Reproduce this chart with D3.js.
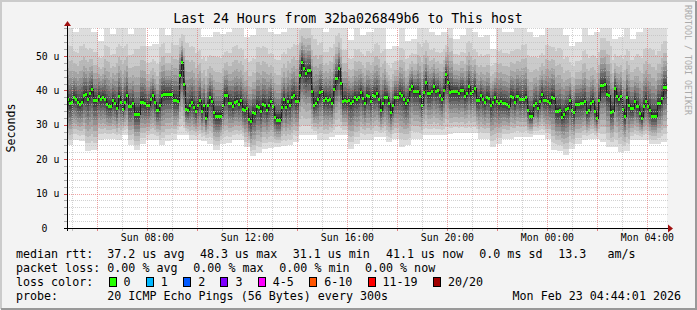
<!DOCTYPE html>
<html>
<head>
<meta charset="utf-8">
<script src="https://d3js.org/d3.v7.min.js"></script>
<style>
  body { margin: 0; background: #f3f3f3; }
  text { font-family: "DejaVu Sans Mono", monospace; }
</style>
</head>
<body>
<script>
// median rtt of each 5 min round, microseconds
var medians = [
  37.5,36.2,36.7,38.2,37.5,36.5,36.1,36.7,38.7,39.0,
  37.5,39.3,40.4,37.2,37.2,38.5,37.5,38.2,37.5,36.1,
  35.5,35.5,37.2,36.4,35.0,38.5,36.7,34.6,36.7,38.7,
  35.5,35.5,36.4,33.2,33.2,33.2,36.7,36.7,36.2,35.8,
  35.8,37.5,38.7,36.7,34.3,35.8,38.7,39.0,39.0,39.0,
  39.0,39.0,37.3,37.3,37.0,44.5,48.3,42.0,34.6,34.3,
  35.8,36.7,35.3,34.0,35.8,37.2,34.0,35.8,32.1,35.9,
  38.2,37.0,33.6,32.6,32.6,32.7,35.8,38.7,38.7,36.4,
  36.4,35.5,36.7,37.0,36.1,37.1,34.6,34.4,34.8,31.7,
  31.1,33.6,33.3,35.5,35.3,34.0,36.1,35.8,34.4,35.9,
  37.0,35.5,32.4,31.4,31.4,35.3,37.5,35.3,37.0,35.9,
  38.2,38.7,37.0,37.0,44.5,48.3,46.6,45.0,45.8,46.0,
  39.8,35.9,36.4,37.5,39.6,39.8,37.2,37.9,37.2,37.5,
  36.4,40.4,43.7,46.4,42.2,37.0,37.2,37.0,37.2,36.4,
  37.0,38.1,37.5,38.2,39.6,37.9,36.4,38.7,38.5,37.0,
  38.7,38.5,39.2,37.5,34.4,36.3,38.2,38.2,36.4,33.8,
  35.8,38.2,38.2,39.2,38.8,37.5,36.3,37.2,40.4,41.4,
  39.8,39.8,39.8,38.5,35.8,39.6,42.3,39.2,39.2,39.8,
  41.4,39.8,40.2,38.7,37.5,40.2,44.7,42.5,39.6,39.8,
  39.8,39.8,39.2,40.2,40.2,38.5,39.2,41.4,39.1,39.8,
  40.8,37.2,37.2,38.7,37.5,36.7,38.2,37.9,35.8,36.7,
  38.2,37.0,36.4,37.0,36.4,36.4,36.1,35.5,38.5,38.2,
  36.7,38.5,37.5,37.5,37.5,38.2,34.3,32.6,32.6,35.8,
  36.3,34.8,37.0,39.0,37.2,37.2,37.0,36.4,38.2,37.9,
  34.0,34.0,34.3,32.4,33.2,34.6,34.8,37.2,34.3,33.6,
  36.1,36.1,36.4,36.4,37.0,33.6,34.3,36.4,37.0,34.0,
  32.1,37.2,41.6,41.6,42.0,39.0,38.7,33.8,34.1,40.6,
  38.5,37.5,38.5,34.6,32.6,38.2,35.8,34.8,34.8,37.0,
  35.5,33.3,32.1,35.5,37.0,35.5,34.4,32.7,32.7,32.7,
  36.3,36.3,37.9,41.0,41.1
];

// smoke envelope: fastest and slowest of the 20 pings, one value per ~15 min
var smokeLo = [
  24,25.6,25.3,22.5,22.8,25.6,26,26,25.6,27,
  24,22.7,24.5,25.6,25.6,24,25.2,25.6,27,27,
  25.6,25.6,25.3,24.5,22.7,24.5,24.8,25.6,25.6,23.5,
  20.8,21.8,23,23.2,23.5,23.8,24,25,27,27,
  27,25.6,25.6,26.5,27,27,23,24.5,25.6,25.6,
  26.5,26.5,25,26,23.6,24,26,26,27,27,
  27,27,27.3,27.5,27.5,27.5,27.5,26,26,23.6,
  24.5,26,26,26.5,26.5,26.5,27,27,26,22.7,
  22.5,21.2,23,24.5,25.5,26,26,25,23.6,23.6,
  22.2,22.5,25.6,25.6,25.6,24.5,24.5,25
];
var smokeHi = [
  60,57,60,58,57,54.5,60,56.5,60,60,
  56.5,60,60,53,53.5,60,56,60,60,62,
  60,58,55.5,55.5,57,56.5,57,60,59,55.5,
  56,60,60,57,56.5,57,59,60,63,64,
  63,60,57,59,61,58,54.7,58,56,57,
  60,58,52,53,58,54.5,55,60,60,57,
  56,57,62,55,56,60,57,55.5,56,52,
  58,57,57,58,60,57,55.5,56,60,59,
  60,56,53,54,58,56,57,61,61,55,
  55.5,58,55,57,59,60,58,60
];

// how far each of the 10 ping pairs sits from the median (outer -> inner)
var upShare  = [1, 0.7, 0.52, 0.4, 0.31, 0.24, 0.18, 0.12, 0.07, 0.03];
var lowShare = [1, 0.86, 0.74, 0.62, 0.51, 0.41, 0.32, 0.23, 0.14, 0.06];

var yTicks = [0, 10, 20, 30, 40, 50];
var lossLabels = ["0", "1", "2", "3", "4-5", "6-10", "11-19", "20/20"];
var lossColors = ["#26ff00", "#00b8ff", "#0059ff", "#7e00ff", "#ff00ff", "#ff5500", "#ff0000", "#a10000"];

var W = 697, H = 310;
var plotL = 67, plotR = 667, plotT = 28, plotB = 228;

var svg = d3.select("body").append("svg")
    .attr("width", W)
    .attr("height", H);

// background + border
svg.append("rect").attr("width", W).attr("height", H).attr("fill", "#f3f3f3");
svg.append("path").attr("d", "M1,309V1H696").attr("fill", "none").attr("stroke", "#cbcbcb").attr("stroke-width", 2);
svg.append("path").attr("d", "M1,309H696V1").attr("fill", "none").attr("stroke", "#999999").attr("stroke-width", 2);
svg.append("rect").attr("x", plotL).attr("y", plotT).attr("width", plotR - plotL).attr("height", plotB - plotT).attr("fill", "#fff");

var t0 = new Date(2026, 1, 22, 4, 47, 0), t1 = new Date(2026, 1, 23, 4, 47, 0);
var x = d3.scaleTime().domain([t0, t1]).range([plotL, plotR]);
var y = d3.scaleLinear().domain([0, 58.14]).range([plotB, plotT]);

var N = medians.length, step = (t1 - t0) / N;
var samples = medians.map(function (m, i) {
    var b = Math.min(smokeLo.length - 1, Math.floor((i + 0.5) / N * smokeLo.length));
    return { t: new Date(+t0 + i * step), t2: new Date(+t0 + (i + 1) * step), med: m, lo: smokeLo[b], hi: smokeHi[b] };
});

svg.append("clipPath").attr("id", "plot")
    .append("rect").attr("x", plotL).attr("y", plotT).attr("width", plotR - plotL).attr("height", plotB - plotT);

var g = svg.append("g").attr("clip-path", "url(#plot)").attr("shape-rendering", "crispEdges");

// smoke: each ping pair a gray band, darker towards the median
upShare.forEach(function (u, k) {
    var c = 221 - 19 * k;
    g.append("g").selectAll("rect")
        .data(samples)
        .enter().append("rect")
        .attr("x", function (d) { return Math.round(x(d.t)); })
        .attr("width", function (d) { return Math.round(x(d.t2)) - Math.round(x(d.t)); })
        .attr("y", function (d) { return Math.round(y(d.med + (d.hi - d.med) * u)); })
        .attr("height", function (d) {
            return Math.max(1, Math.round(y(d.med - (d.med - d.lo) * lowShare[k])) - Math.round(y(d.med + (d.hi - d.med) * u)));
        })
        .attr("fill", d3.rgb(c, c, c));
});

// median step line
var linePts = samples.concat([{ t: t1, med: medians[N - 1] }]);
g.append("path")
    .datum(linePts)
    .attr("fill", "none")
    .attr("stroke", "#202020")
    .attr("stroke-width", 1)
    .attr("d", d3.line()
        .x(function (d) { return Math.round(x(d.t)) + 0.5; })
        .y(function (d) { return Math.round(y(d.med)) + 0.5; })
        .curve(d3.curveStepAfter));

// median marks, coloured by loss (all 0 here)
g.append("g").selectAll("rect")
    .data(samples)
    .enter().append("rect")
    .attr("x", function (d) { return Math.round(x(d.t)); })
    .attr("width", function (d) { return Math.round(x(d.t2)) - Math.round(x(d.t)); })
    .attr("y", function (d) { return Math.round(y(d.med)) - 1; })
    .attr("height", 3)
    .attr("fill", lossColors[0]);

// grid on top
var grid = svg.append("g").attr("shape-rendering", "crispEdges");
d3.range(2, 58.2, 2).forEach(function (v) {
    var major = v % 10 === 0;
    grid.append("line")
        .attr("x1", plotL).attr("x2", plotR + 1)
        .attr("y1", Math.round(y(v)) + 0.5).attr("y2", Math.round(y(v)) + 0.5)
        .attr("stroke", major ? "rgba(230,100,100,0.6)" : "rgba(190,190,190,0.7)")
        .attr("stroke-dasharray", "1,1");
    grid.append("line")
        .attr("x1", plotL - 3).attr("x2", plotL)
        .attr("y1", Math.round(y(v)) + 0.5).attr("y2", Math.round(y(v)) + 0.5)
        .attr("stroke", major ? "#d05050" : "#aaaaaa");
});
x.ticks(d3.timeHour.every(1)).forEach(function (t) {
    var major = t.getHours() % 2 === 0;
    var px = Math.round(x(t)) + 0.5;
    grid.append("line")
        .attr("x1", px).attr("x2", px)
        .attr("y1", plotT).attr("y2", plotB)
        .attr("stroke", major ? "rgba(230,100,100,0.6)" : "rgba(190,190,190,0.7)")
        .attr("stroke-dasharray", "1,1");
    grid.append("line")
        .attr("x1", px).attr("x2", px)
        .attr("y1", plotB).attr("y2", plotB + 3)
        .attr("stroke", major ? "#e08080" : "#c0c0c0");
});

// axes
var axis = svg.append("g").attr("shape-rendering", "crispEdges");
axis.append("line").attr("x1", plotL + 0.5).attr("x2", plotL + 0.5).attr("y1", plotB + 3).attr("y2", plotT - 3).attr("stroke", "#000");
axis.append("line").attr("x1", plotL - 3).attr("x2", plotR + 2).attr("y1", plotB + 0.5).attr("y2", plotB + 0.5).attr("stroke", "#000");
svg.append("path").attr("d", "M64,26L67.5,21L71,26Z").attr("fill", "#a01010");
svg.append("path").attr("d", "M668,224.5L673,228.5L668,232.5Z").attr("fill", "#a01010");

svg.append("g").selectAll("text")
    .data(yTicks)
    .enter().append("text")
    .attr("x", function (d) { return d === 0 ? 47.5 : 59.5; })
    .attr("y", function (d) { return y(d) + 3.5; })
    .attr("text-anchor", "end")
    .style("font-size", "9.8px")
    .text(function (d) { return d === 0 ? "0" : d + " u"; });

var fmt = d3.timeFormat("%a %H:%M");
svg.append("g").selectAll("text")
    .data(x.ticks(d3.timeHour.every(4)))
    .enter().append("text")
    .attr("x", function (d) { return x(d); })
    .attr("y", 241)
    .attr("text-anchor", "middle")
    .style("font-size", "9.8px")
    .text(function (d) { return fmt(d); });

// titles
svg.append("text").attr("x", 348).attr("y", 23).attr("text-anchor", "middle")
    .style("font-size", "13.2px").text("Last 24 Hours from 32ba026849b6 to This host");
svg.append("text").attr("transform", "translate(15,128) rotate(-90)").attr("text-anchor", "middle")
    .style("font-size", "11.6px").text("Seconds");
svg.append("text").attr("transform", "translate(685,5) rotate(90)")
    .style("font-size", "8.3px").attr("fill", "#aaaaaa").text("RRDTOOL / TOBI OETIKER");

// legend
var charW = 7.02;
function legendText(px, py, s) {
    svg.append("text").attr("x", px).attr("y", py).style("font-size", "11.67px").attr("xml:space", "preserve").text(s);
}
legendText(16, 258, "median rtt:");
legendText(107.3, 258, "37.2 us avg");
legendText(200, 258, "48.3 us max");
legendText(292.7, 258, "31.1 us min");
legendText(386, 258, "41.1 us now");
legendText(479.3, 258, "0.0 ms sd");
legendText(558.3, 258, "13.3   am/s");

legendText(16, 272, "packet loss:");
legendText(107.3, 272, "0.00 % avg");
legendText(193.3, 272, "0.00 % max");
legendText(279.3, 272, "0.00 % min");
legendText(365, 272, "0.00 % now");

legendText(16, 286, "loss color:");
var cursor = 108.5;
lossLabels.forEach(function (lab, i) {
    svg.append("rect").attr("x", cursor + 0.5).attr("y", 277.5).attr("width", 7).attr("height", 9)
        .attr("fill", lossColors[i]).attr("stroke", "#000").attr("shape-rendering", "crispEdges");
    legendText(cursor + 15, 286, lab);
    cursor += 15 + lab.length * charW + 15.3;
});

legendText(16, 300, "probe:");
legendText(107.3, 300, "20 ICMP Echo Pings (56 Bytes) every 300s");
svg.append("text").attr("x", 681).attr("y", 300).attr("text-anchor", "end")
    .style("font-size", "11.67px").text("Mon Feb 23 04:44:01 2026");
</script>
</body>
</html>
